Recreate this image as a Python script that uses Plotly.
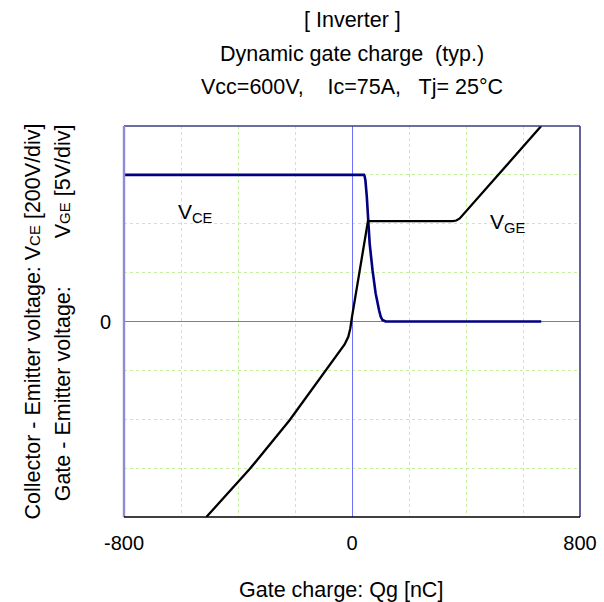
import plotly.graph_objects as go

# Gate charge [nC] and voltages [V]
qg_vge = [-511, -359, -219, -43, -26, -13, -6, 0, 56, 354, 366, 378, 664]
vge = [-20.0, -15.1, -10.1, -3.1, -2.35, -1.57, -0.72, 0.48, 10.27, 10.27, 10.33, 10.54, 20.0]

qg_vce = [-800, 42, 44, 47, 52, 56, 62, 72, 83, 95, 101, 107, 113, 118, 664]
vce = [600, 600, 596, 578, 510, 411, 319, 210, 115, 46, 19, 6, 1, 0, 0]

VCE_PER_DIV = 200
VGE_PER_DIV = 5

x_ticks = [-800, 0, 800]
x_ticktext = ["-800", "0", "800"]
x_grid = [-600, -400, -200, 200, 400, 600]
y_ticks = [0]
y_ticktext = ["0"]
y_grid = [-3, -2, -1, 1, 2, 3]

FONT = "Liberation Sans, Arial, sans-serif"

fig = go.Figure()
fig.add_trace(go.Scatter(x=qg_vce, y=[v / VCE_PER_DIV for v in vce], mode="lines",
                         line=dict(color="#000080", width=2.6), showlegend=False))
fig.add_trace(go.Scatter(x=qg_vge, y=[v / VGE_PER_DIV for v in vge], mode="lines",
                         line=dict(color="#000000", width=2.3), showlegend=False))

common = dict(showgrid=False, zeroline=True, zerolinecolor="#7070ff", zerolinewidth=1,
              showline=False, ticks="", tickmode="array", automargin=False,
              tickfont=dict(family=FONT, size=20, color="black"), ticklabelstandoff=12)
minor = dict(showgrid=True, gridcolor="#c6f0a0", griddash="dot", gridwidth=1, ticks="",
             tickmode="array")

fig.update_xaxes(range=[-800, 800], tickvals=x_ticks, ticktext=x_ticktext,
                 minor=dict(tickvals=x_grid, **minor), **common)
fig.update_yaxes(range=[-4, 4], tickvals=y_ticks, ticktext=y_ticktext,
                 minor=dict(tickvals=y_grid, **minor), **common)

shapes = [
    dict(type="line", xref="paper", yref="paper", x0=0, x1=1, y0=1, y1=1,
         line=dict(color="#3c3c80", width=1.6)),
    dict(type="line", xref="paper", yref="paper", x0=1, x1=1, y0=0, y1=1,
         line=dict(color="#3c3c80", width=1.6)),
    dict(type="line", xref="paper", yref="paper", x0=0, x1=0, y0=0, y1=1,
         line=dict(color="#8c8cd8", width=2.4)),
    dict(type="line", xref="paper", yref="paper", x0=0, x1=1, y0=0, y1=0,
         line=dict(color="#000000", width=1.6)),
]

ann = []
for text, ys in [("[ Inverter ]", 105.7), ("Dynamic gate charge  (typ.)", 71.7),
                 ("Vcc=600V,    Ic=75A,   Tj= 25°C", 38.7)]:
    ann.append(dict(text=text.replace("  ", "\u00a0\u00a0"), xref="paper", yref="paper", x=0.5, y=1,
                    yshift=ys, xanchor="center", yanchor="middle", showarrow=False,
                    font=dict(family=FONT, size=21.5, color="black")))

ann.append(dict(text="Gate charge: Qg [nC]", xref="x", yref="paper", x=-37, y=0, yshift=-73,
                xanchor="center", yanchor="middle", showarrow=False,
                font=dict(family=FONT, size=21.5, color="black")))

small = "<span style='font-size:15px'>%s</span>"
ann.append(dict(text="Collector - Emitter voltage: V" + small % "CE" + " [200V/div]",
                xref="paper", yref="y", x=0, y=0, xshift=-92, textangle=-90,
                xanchor="center", yanchor="middle", showarrow=False,
                font=dict(family=FONT, size=21.5, color="black")))
ann.append(dict(text="Gate - Emitter voltage:",
                xref="paper", yref="y", x=0, y=-1.49, xshift=-61, textangle=-90,
                xanchor="center", yanchor="middle", showarrow=False,
                font=dict(family=FONT, size=21.5, color="black")))
ann.append(dict(text="V" + small % "GE" + " [5V/div]",
                xref="paper", yref="y", x=0, y=2.87, xshift=-61, textangle=-90,
                xanchor="center", yanchor="middle", showarrow=False,
                font=dict(family=FONT, size=21.5, color="black")))

ann.append(dict(text="V<sub>CE</sub>", xref="x", yref="y", x=-616, y=2.22,
                xanchor="left", yanchor="middle", showarrow=False,
                font=dict(family=FONT, size=21, color="black")))
ann.append(dict(text="V<sub>GE</sub>", xref="x", yref="y", x=477, y=2.01,
                xanchor="left", yanchor="middle", showarrow=False,
                font=dict(family=FONT, size=21, color="black")))

fig.update_layout(width=604, height=602, margin=dict(l=124, r=24, t=126, b=85, autoexpand=False),
                  plot_bgcolor="white", paper_bgcolor="white",
                  shapes=shapes, annotations=ann, showlegend=False)

fig.write_html("out.html", config={"displayModeBar": False},
               post_script="document.body.style.margin='0px';document.body.style.overflow='hidden';")
